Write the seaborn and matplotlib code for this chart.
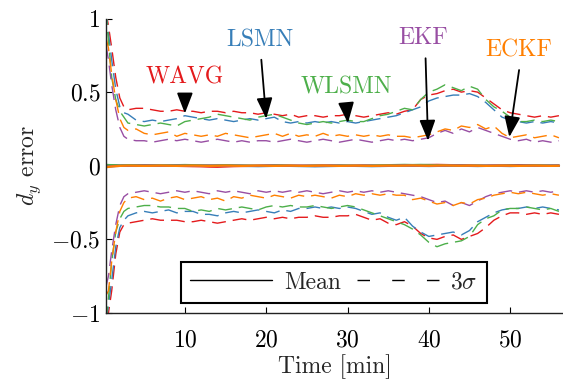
import numpy as np
import matplotlib
matplotlib.use("Agg")
import matplotlib.pyplot as plt
import seaborn as sns
from matplotlib.lines import Line2D

# time axis [min]
t = [0.3, 0.6, 1.0, 1.5, 2.0, 2.5] + list(range(3, 57))

methods = ["WAVG", "LSMN", "WLSMN", "EKF", "ECKF"]
colors = {"WAVG": "#e41a1c", "LSMN": "#377eb8", "WLSMN": "#4daf4a",
          "EKF": "#984ea3", "ECKF": "#ff7f00"}

# upper 3-sigma bounds
up_wavg = [1.05, 0.95, 0.80, 0.60, 0.46, 0.40, 0.38, 0.39, 0.39, 0.38, 0.37, 0.37, 0.38, 0.37,
           0.37, 0.36, 0.37, 0.37, 0.36, 0.37, 0.36, 0.36, 0.35, 0.36, 0.35, 0.34, 0.35, 0.33,
           0.34, 0.34, 0.33, 0.34, 0.34, 0.35, 0.34, 0.33, 0.34, 0.35, 0.36, 0.35, 0.37, 0.38,
           0.45, 0.48, 0.49, 0.51, 0.52, 0.50, 0.51, 0.50, 0.46, 0.42, 0.38, 0.36, 0.35, 0.34,
           0.33, 0.34, 0.33, 0.34]
up_lsmn = [1.05, 0.90, 0.72, 0.52, 0.40, 0.36, 0.35, 0.31, 0.30, 0.31, 0.30, 0.31, 0.32, 0.34,
           0.33, 0.32, 0.31, 0.32, 0.31, 0.30, 0.31, 0.32, 0.31, 0.32, 0.33, 0.30, 0.29, 0.30,
           0.29, 0.30, 0.29, 0.30, 0.29, 0.30, 0.29, 0.30, 0.31, 0.32, 0.33, 0.34, 0.36, 0.38,
           0.40, 0.44, 0.46, 0.47, 0.48, 0.48, 0.49, 0.47, 0.43, 0.38, 0.33, 0.31, 0.30, 0.29,
           0.30, 0.29, 0.30, 0.29]
up_wlsmn = [1.05, 0.85, 0.60, 0.45, 0.37, 0.33, 0.29, 0.28, 0.27, 0.28, 0.29, 0.28, 0.27, 0.30,
            0.31, 0.32, 0.33, 0.35, 0.34, 0.33, 0.32, 0.31, 0.33, 0.34, 0.35, 0.33, 0.31, 0.29,
            0.28, 0.29, 0.30, 0.29, 0.30, 0.31, 0.30, 0.30, 0.32, 0.34, 0.35, 0.37, 0.39, 0.38,
            0.45, 0.50, 0.52, 0.55, 0.53, 0.51, 0.54, 0.52, 0.45, 0.40, 0.37, 0.33, 0.30, 0.30,
            0.31, 0.30, 0.31, 0.30]
up_ekf = [0.82, 0.72, 0.55, 0.38, 0.26, 0.20, 0.18, 0.17, 0.17, 0.16, 0.17, 0.18, 0.17, 0.18,
          0.17, 0.16, 0.17, 0.18, 0.17, 0.16, 0.17, 0.16, 0.17, 0.17, 0.16, 0.17, 0.18, 0.17,
          0.16, 0.17, 0.18, 0.17, 0.16, 0.17, 0.18, 0.17, 0.16, 0.17, 0.18, 0.17, 0.18, 0.17,
          0.18, 0.19, 0.22, 0.24, 0.22, 0.25, 0.23, 0.26, 0.24, 0.22, 0.20, 0.18, 0.17, 0.18,
          0.16, 0.17, 0.16, 0.17]
up_eckf = [0.87, 0.80, 0.62, 0.45, 0.32, 0.26, 0.24, 0.25, 0.22, 0.21, 0.22, 0.23, 0.20, 0.22,
           0.21, 0.20, 0.21, 0.20, 0.22, 0.21, 0.20, 0.19, 0.20, 0.21, 0.22, 0.20, 0.22, 0.20,
           0.21, 0.20, 0.22, 0.20, 0.21, 0.20, 0.21, 0.20, 0.21, 0.20, 0.21, 0.20, 0.20, 0.19,
           0.20, 0.21, 0.23, 0.25, 0.24, 0.27, 0.26, 0.28, 0.25, 0.27, 0.22, 0.19, 0.20, 0.21,
           0.19, 0.20, 0.21, 0.19]

# lower 3-sigma bounds
lo_wavg = [-1.05, -1.00, -0.85, -0.60, -0.45, -0.40, -0.39, -0.38, -0.37, -0.36, -0.37, -0.37,
           -0.37, -0.38, -0.38, -0.37, -0.38, -0.39, -0.38, -0.37, -0.36, -0.37, -0.36, -0.35,
           -0.36, -0.35, -0.36, -0.35, -0.35, -0.34, -0.35, -0.35, -0.34, -0.34, -0.33, -0.35,
           -0.37, -0.36, -0.39, -0.40, -0.38, -0.41, -0.46, -0.49, -0.50, -0.48, -0.47, -0.50,
           -0.48, -0.46, -0.42, -0.37, -0.34, -0.32, -0.32, -0.33, -0.32, -0.33, -0.32, -0.33]
lo_lsmn = [-1.05, -0.95, -0.78, -0.55, -0.42, -0.37, -0.34, -0.32, -0.31, -0.32, -0.31, -0.30,
           -0.32, -0.31, -0.31, -0.33, -0.33, -0.34, -0.32, -0.31, -0.32, -0.31, -0.30, -0.31,
           -0.32, -0.30, -0.31, -0.29, -0.29, -0.28, -0.29, -0.28, -0.29, -0.28, -0.29, -0.31,
           -0.33, -0.32, -0.35, -0.37, -0.35, -0.41, -0.45, -0.48, -0.47, -0.46, -0.45, -0.47,
           -0.44, -0.38, -0.35, -0.32, -0.30, -0.29, -0.29, -0.28, -0.29, -0.28, -0.29, -0.30]
lo_wlsmn = [-1.05, -0.90, -0.65, -0.45, -0.36, -0.31, -0.29, -0.28, -0.27, -0.27, -0.28, -0.28,
            -0.29, -0.29, -0.31, -0.30, -0.31, -0.29, -0.30, -0.29, -0.28, -0.29, -0.30, -0.28,
            -0.27, -0.28, -0.27, -0.28, -0.28, -0.27, -0.28, -0.29, -0.28, -0.27, -0.28, -0.30,
            -0.32, -0.34, -0.36, -0.38, -0.40, -0.43, -0.47, -0.52, -0.55, -0.53, -0.52, -0.51,
            -0.48, -0.40, -0.36, -0.34, -0.30, -0.29, -0.29, -0.28, -0.29, -0.30, -0.29, -0.31]
lo_ekf = [-0.82, -0.75, -0.58, -0.40, -0.27, -0.21, -0.19, -0.18, -0.17, -0.18, -0.19, -0.18,
          -0.17, -0.18, -0.17, -0.18, -0.19, -0.17, -0.18, -0.17, -0.18, -0.19, -0.17, -0.18,
          -0.17, -0.18, -0.17, -0.18, -0.17, -0.18, -0.19, -0.18, -0.17, -0.18, -0.17, -0.18,
          -0.17, -0.18, -0.17, -0.18, -0.19, -0.20, -0.21, -0.23, -0.25, -0.24, -0.27, -0.25,
          -0.27, -0.24, -0.21, -0.19, -0.18, -0.17, -0.18, -0.17, -0.18, -0.17, -0.18, -0.17]
lo_eckf = [-0.88, -0.85, -0.65, -0.45, -0.31, -0.25, -0.22, -0.21, -0.23, -0.22, -0.24, -0.22,
           -0.21, -0.23, -0.22, -0.21, -0.23, -0.22, -0.24, -0.21, -0.22, -0.20, -0.21, -0.22,
           -0.20, -0.21, -0.22, -0.20, -0.21, -0.20, -0.21, -0.22, -0.20, -0.21, -0.19, -0.20,
           -0.19, -0.20, -0.19, -0.20, -0.20, -0.23, -0.22, -0.24, -0.26, -0.25, -0.27, -0.25,
           -0.26, -0.23, -0.22, -0.20, -0.19, -0.18, -0.19, -0.18, -0.19, -0.20, -0.19, -0.20]

# mean errors (all close to zero)
mean_wavg = [0.005, 0.004, 0.003, 0.002, 0.0, 0.0, 0.001, 0.002, 0.003, 0.002, 0.001, 0.0,
             -0.001, -0.002, -0.003, -0.004, -0.006, -0.007, -0.005, -0.003, -0.002, -0.001,
             0.0, 0.001, 0.002, 0.001, 0.0, -0.001, 0.0, 0.001, 0.002, 0.001, 0.0, -0.001,
             0.0, 0.001, 0.0, -0.001, 0.0, 0.001, 0.002, 0.003, 0.004, 0.005, 0.006, 0.005,
             0.004, 0.003, 0.002, 0.001, 0.0, 0.001, 0.002, 0.003, 0.004, 0.003, 0.002, 0.001,
             0.0, 0.001]
mean_lsmn = [-0.004, -0.003, -0.002, -0.001, 0.0, 0.001, 0.0, -0.001, 0.0, 0.001, 0.0, -0.001,
             0.0, 0.001, 0.0, 0.0, -0.001, 0.0, 0.001, 0.0, -0.001, -0.002, -0.003, -0.002,
             -0.001, 0.0, -0.001, -0.002, -0.003, -0.004, -0.003, -0.002, -0.001, 0.0, -0.001,
             -0.002, -0.003, -0.002, -0.001, 0.0, 0.001, 0.0, -0.001, -0.002, -0.001, 0.0, 0.001,
             0.0, -0.001, -0.002, -0.001, 0.0, -0.001, -0.002, -0.001, 0.0, -0.001, 0.0, 0.001,
             0.0]
mean_wlsmn = [0.006, 0.005, 0.004, 0.003, 0.002, 0.003, 0.004, 0.003, 0.002, 0.001, 0.002,
              0.003, 0.004, 0.005, 0.004, 0.003, 0.002, 0.003, 0.004, 0.003, 0.002, 0.001, 0.0,
              0.001, 0.002, 0.001, 0.0, -0.001, 0.0, 0.001, 0.0, 0.001, 0.002, 0.001, 0.0, 0.001,
              0.002, 0.003, 0.004, 0.005, 0.006, 0.005, 0.006, 0.005, 0.004, 0.003, 0.002,
              0.001, 0.0, 0.001, 0.0, -0.001, 0.0, 0.001, 0.0, 0.001, 0.002, 0.001, 0.0, 0.001]
mean_ekf = [-0.006, -0.005, -0.004, -0.002, -0.001, 0.0, -0.001, 0.0, 0.001, 0.0, -0.001, 0.0,
            0.001, 0.0, -0.001, 0.0, 0.001, 0.0, -0.001, 0.0, 0.0, -0.001, 0.0, 0.001, 0.0,
            -0.001, 0.0, 0.001, 0.0, -0.001, 0.0, 0.001, 0.0, -0.001, 0.0, 0.001, 0.0, -0.001,
            0.0, 0.001, 0.002, 0.001, 0.0, -0.001, 0.0, 0.001, 0.002, 0.001, 0.0, -0.001, 0.0,
            0.001, 0.0, -0.001, 0.0, 0.001, 0.0, -0.001, 0.0, 0.001]
mean_eckf = [-0.01, -0.008, -0.005, -0.003, -0.001, 0.0, 0.001, 0.0, -0.001, 0.0, 0.001, 0.0,
             -0.001, 0.0, 0.001, 0.0, -0.001, 0.0, 0.001, 0.0, -0.001, 0.0, 0.001, 0.0, -0.001,
             0.0, 0.001, 0.0, -0.001, 0.0, 0.001, 0.0, -0.001, 0.0, 0.001, 0.0, -0.001, 0.0,
             0.001, 0.0, 0.001, 0.002, 0.001, 0.0, 0.001, 0.002, 0.001, 0.0, 0.001, 0.0, -0.001,
             0.0, 0.001, 0.0, -0.001, 0.0, 0.001, 0.0, -0.001, 0.0]

upper = {"WAVG": up_wavg, "LSMN": up_lsmn, "WLSMN": up_wlsmn, "EKF": up_ekf, "ECKF": up_eckf}
lower = {"WAVG": lo_wavg, "LSMN": lo_lsmn, "WLSMN": lo_wlsmn, "EKF": lo_ekf, "ECKF": lo_eckf}
means = {"WAVG": mean_wavg, "LSMN": mean_lsmn, "WLSMN": mean_wlsmn, "EKF": mean_ekf,
         "ECKF": mean_eckf}

# label text position, arrow tail, arrow head (data coords)
label_pos = {"WAVG": (10.0, 0.60), "LSMN": (19.2, 0.85), "WLSMN": (29.9, 0.535),
             "EKF": (39.3, 0.865), "ECKF": (51.0, 0.78)}
arrow_tail = {"WAVG": (10.0, 0.47), "LSMN": (19.4, 0.72), "WLSMN": (29.85, 0.41),
              "EKF": (39.6, 0.73), "ECKF": (51.1, 0.65)}
arrow_head = {"WAVG": (10.0, 0.355), "LSMN": (20.0, 0.32), "WLSMN": (30.05, 0.29),
              "EKF": (39.9, 0.17), "ECKF": (49.9, 0.195)}

sns.set_style("ticks")
plt.rcParams["font.family"] = "serif"
plt.rcParams["font.serif"] = ["cmr10", "DejaVu Serif"]
plt.rcParams["mathtext.fontset"] = "cm"
plt.rcParams["axes.formatter.use_mathtext"] = True
plt.rcParams["axes.unicode_minus"] = True

FS = 17

fig = plt.figure(figsize=(5.63, 3.82), dpi=100)
ax = fig.add_axes([106 / 563, 1 - 313 / 382, 1 - 106 / 563, (313 - 18.5) / 382])

dash = (0, (10, 5))
for m in methods:
    c = colors[m]
    sns.lineplot(x=t, y=upper[m], ax=ax, color=c, lw=1.0, ls=dash)
    sns.lineplot(x=t, y=lower[m], ax=ax, color=c, lw=1.0, ls=dash)
for m in methods:
    sns.lineplot(x=t, y=means[m], ax=ax, color=colors[m], lw=1.6)

for m in methods:
    ax.text(*label_pos[m], m, color=colors[m], fontsize=FS, ha="center", va="center")
    ax.annotate("", xy=arrow_head[m], xytext=arrow_tail[m],
                arrowprops=dict(arrowstyle="-|>,head_length=0.7,head_width=0.27",
                                color="black", lw=1.3, mutation_scale=18,
                                shrinkA=0, shrinkB=0))

ax.set_xlim(0.3, 56.5)
ax.set_ylim(-1, 1)
ax.set_xticks([10, 20, 30, 40, 50])
ax.set_yticks([-1, -0.5, 0, 0.5, 1])
ax.set_yticklabels(["$-1$", "$-0.5$", "$0$", "$0.5$", "$1$"])
ax.set_xticklabels(["$10$", "$20$", "$30$", "$40$", "$50$"])
ax.tick_params(direction="in", length=4, width=0.8, labelsize=FS, colors="black")
ax.tick_params(axis="x", pad=12)
ax.tick_params(axis="y", pad=4)
ax.set_xlabel("Time [min]", fontsize=FS, labelpad=2)
ax.set_ylabel("$d_y$ error", fontsize=FS, labelpad=6)
sns.despine(ax=ax)
for s in ["left", "bottom"]:
    ax.spines[s].set_color("#222222")
    ax.spines[s].set_linewidth(1.0)

handles = [Line2D([], [], color="black", lw=1.0),
           Line2D([], [], color="black", lw=1.0, ls=(0, (9, 16)))]
leg = ax.legend(handles, ["Mean", "$3\\sigma$"], loc="lower center", ncol=2, fontsize=FS,
                frameon=True, fancybox=False, handlelength=3.45, columnspacing=0.7,
                handletextpad=0.5, borderpad=0.4, borderaxespad=0,
                bbox_to_anchor=(0.499, 0.034))
leg.get_frame().set_edgecolor("black")
leg.get_frame().set_linewidth(1.5)
leg.get_frame().set_alpha(1)

fig.savefig("out.png", dpi=100)
